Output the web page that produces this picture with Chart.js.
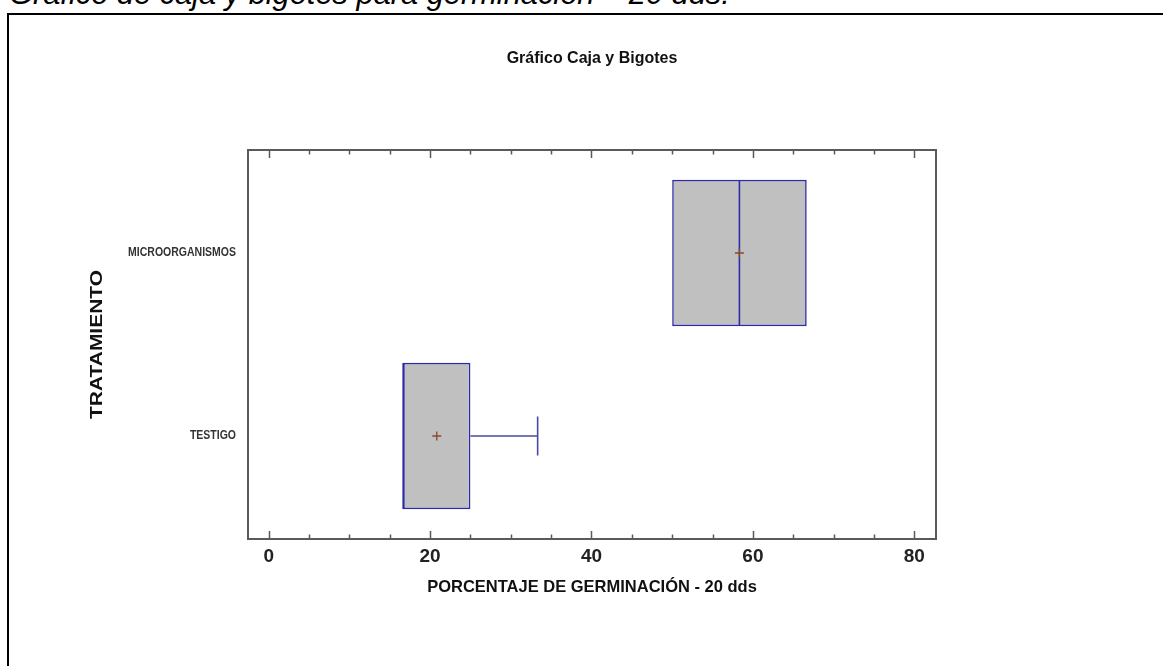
<!DOCTYPE html>
<html>
<head>
<meta charset="utf-8">
<title>Gráfico Caja y Bigotes</title>
<script src="https://cdn.jsdelivr.net/npm/chart.js@4.4.1/dist/chart.umd.min.js"></script>
<style>
  html, body { margin: 0; padding: 0; background: #fff; width: 1163px; height: 666px; overflow: hidden; }
  body { position: relative; }
  #caption {
    position: absolute; left: 9px; top: -21px;
    font: italic 30.8px 'Liberation Sans', Arial, sans-serif; line-height: 30px;
    color: #000; white-space: nowrap;
  }
  #frame {
    position: absolute; left: 7px; top: 13px; width: 1200px; height: 700px;
    border-top: 2px solid #000; border-left: 2px solid #000;
  }
  #wrap { position: absolute; left: 0; top: 0; width: 1163px; height: 666px; }
</style>
</head>
<body>
<div id="caption">Gráfico de caja y bigotes para germinación – 20 dds.</div>
<div id="frame"></div>
<div id="wrap"><canvas id="chart" width="1163" height="666"></canvas></div>
<script>
// Treatments (bottom to top on the category axis)
const categories = ['TESTIGO', 'MICROORGANISMOS'];
// Five-number summaries and means, % germination at 20 dds
const minValues    = [16.67, 50.00];
const q1Values     = [16.67, 50.00];
const medianValues = [16.67, 58.33];
const q3Values     = [25.00, 66.67];
const maxValues    = [33.33, 66.67];
const meanValues   = [20.83, 58.33];
// Labelled ticks of the percentage axis, minor ticks every 5
const xTickValues = [0, 20, 40, 60, 80];
const xMinorStep = 5;

const chartTitle = 'Gráfico Caja y Bigotes';
const xTitle = 'PORCENTAJE DE GERMINACIÓN - 20 dds';
const yTitle = 'TRATAMIENTO';

const SANS = "'Liberation Sans', Arial, sans-serif";
const AXIS = '#5a5a5a';
const BOX_FILL = '#c0c0c0';
const BOX_EDGE = '#2c2ca8';
const WHISKER = '#4848a6';
const MEAN = '#8a4a28';

const idx = categories.map((_, i) => i);

// Whisker segments: min→Q1 and Q3→max for every treatment
const whiskerSets = [];
idx.forEach(i => {
  [[minValues[i], q1Values[i]], [q3Values[i], maxValues[i]]].forEach(([a, b]) => {
    if (b > a) {
      whiskerSets.push({
        type: 'line',
        data: [{ x: a, y: i }, { x: b, y: i }],
        borderColor: WHISKER, borderWidth: 1.6,
        pointRadius: 0, fill: false, tension: 0
      });
    }
  });
});

// Whisker caps at the extremes that extend beyond the box
const capPoints = [];
idx.forEach(i => {
  if (maxValues[i] > q3Values[i]) capPoints.push({ x: maxValues[i], y: i });
  if (minValues[i] < q1Values[i]) capPoints.push({ x: minValues[i], y: i });
});

// Condensed text: regular glyphs squeezed along the writing direction
function drawSqueezed(ctx, text, x, y, align, font, sx, sy, angle) {
  ctx.save();
  ctx.font = font;
  ctx.textAlign = align;
  ctx.textBaseline = 'middle';
  ctx.translate(x, y);
  if (angle) ctx.rotate(angle);
  ctx.scale(sx, sy);
  ctx.fillText(text, 0, 0);
  ctx.restore();
}

// Frame of the plot: top/right edges, inward tick marks, category labels and vertical title
const plotFrame = {
  id: 'plotFrame',
  afterDraw(chart) {
    const { ctx, chartArea: { left, right, top, bottom }, scales: { x, y } } = chart;
    ctx.save();
    ctx.strokeStyle = AXIS;
    ctx.lineWidth = 2;
    ctx.beginPath();
    ctx.moveTo(left - 1, top);
    ctx.lineTo(right, top);
    ctx.lineTo(right, bottom + 1);
    ctx.stroke();
    ctx.lineWidth = 1.5;
    const first = xTickValues[0], last = xTickValues[xTickValues.length - 1];
    for (let v = first; v <= last; v += xMinorStep) {
      const px = Math.round(x.getPixelForValue(v)) + 0.5;
      const len = xTickValues.includes(v) ? 8 : 4.5;
      ctx.beginPath();
      ctx.moveTo(px, bottom); ctx.lineTo(px, bottom - len);
      ctx.moveTo(px, top); ctx.lineTo(px, top + len);
      ctx.stroke();
    }
    ctx.fillStyle = '#333';
    idx.forEach(i => {
      drawSqueezed(ctx, categories[i], left - 12, y.getPixelForValue(i), 'right',
        'bold 12.5px ' + SANS, 0.84, 1, 0);
    });
    ctx.fillStyle = '#111';
    drawSqueezed(ctx, yTitle, 98, (top + bottom) / 2, 'center',
      'bold 16px ' + SANS, 1.31, 1, -Math.PI / 2);
    ctx.restore();
  }
};

new Chart(document.getElementById('chart'), {
  type: 'bar',
  data: {
    datasets: [
      {
        type: 'scatter',
        data: idx.map(i => ({ x: meanValues[i], y: i })),
        pointStyle: 'cross', pointRadius: 4.5,
        borderColor: MEAN, backgroundColor: MEAN, borderWidth: 1.3
      },
      {
        type: 'scatter',
        data: idx.map(i => ({ x: medianValues[i], y: i })),
        pointStyle: 'line', rotation: 90, pointRadius: 73,
        borderColor: BOX_EDGE, borderWidth: 1.6
      },
      {
        type: 'scatter',
        data: capPoints,
        pointStyle: 'line', rotation: 90, pointRadius: 19.5,
        borderColor: WHISKER, borderWidth: 1.6
      },
      ...whiskerSets,
      {
        type: 'bar',
        data: idx.map(i => ({ x: [q1Values[i], q3Values[i]], y: i })),
        backgroundColor: BOX_FILL,
        borderColor: BOX_EDGE,
        borderWidth: 1.6,
        borderSkipped: false,
        categoryPercentage: 1,
        barPercentage: 0.8
      }
    ]
  },
  options: {
    responsive: false,
    animation: false,
    events: [],
    indexAxis: 'y',
    layout: { padding: { left: 0, right: 227, top: 0, bottom: 0 } },
    plugins: {
      legend: { display: false },
      tooltip: { enabled: false },
      title: {
        display: true, text: chartTitle, fullSize: false, color: '#111',
        font: { family: SANS, size: 16, weight: 'bold' },
        padding: { top: 48.5, bottom: 82.3 }
      }
    },
    scales: {
      x: {
        type: 'linear', position: 'bottom', min: -2.56, max: 82.69, offset: false,
        grid: { display: false, drawTicks: false, offset: false },
        border: { display: true, color: AXIS, width: 2 },
        ticks: { color: '#222', padding: 6, font: { family: SANS, size: 19, weight: 'bold' } },
        afterBuildTicks: s => { s.ticks = xTickValues.map(v => ({ value: v })); },
        afterFit: s => { s.height = 127; },
        title: {
          display: true, text: xTitle, color: '#111',
          font: { family: SANS, size: 16.5, weight: 'bold' },
          padding: { top: 0, bottom: 69 }
        }
      },
      y: {
        type: 'linear', position: 'left', min: -0.563, max: 1.563, offset: false,
        grid: { display: false, drawTicks: false, offset: false },
        border: { display: true, color: AXIS, width: 2 },
        ticks: { display: false },
        afterBuildTicks: s => { s.ticks = idx.map(i => ({ value: i })); },
        afterFit: s => { s.width = 248; }
      }
    }
  },
  plugins: [plotFrame]
});
</script>
</body>
</html>
